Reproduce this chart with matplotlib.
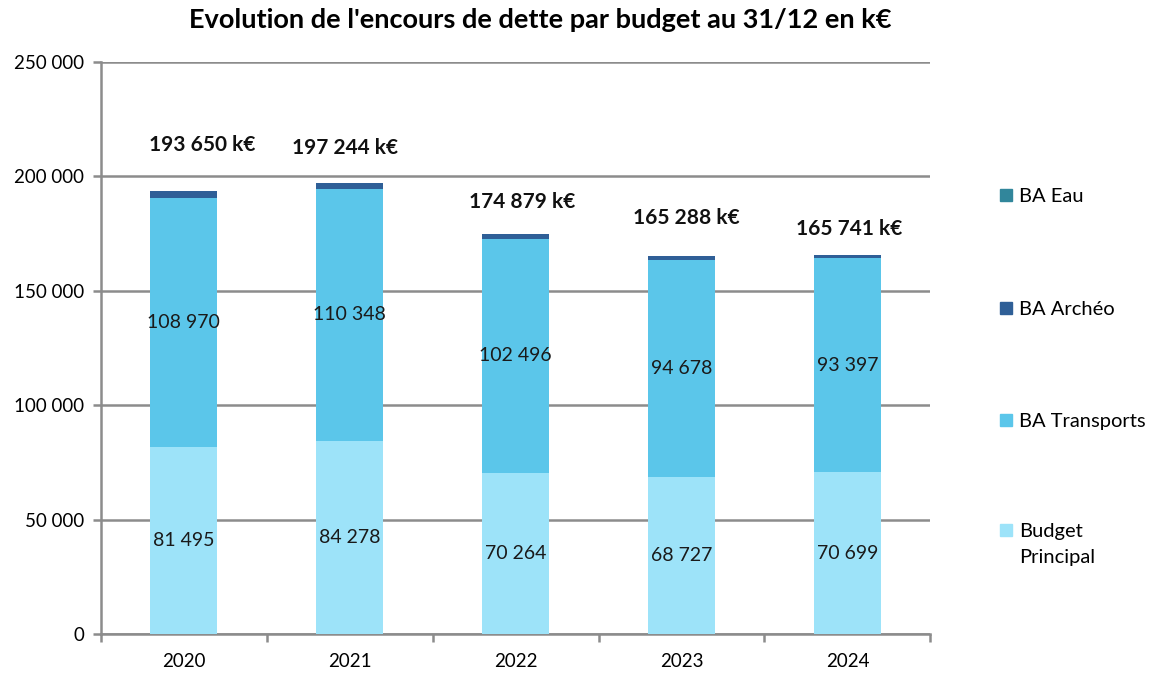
import matplotlib.pyplot as plt
from matplotlib.patches import Rectangle
from matplotlib.ticker import FuncFormatter
import numpy as np

plt.rcParams['font.family'] = ['Lato', 'DejaVu Sans']

# Data (k€)
years = ['2020', '2021', '2022', '2023', '2024']
principal = [81495, 84278, 70264, 68727, 70699]
transports = [108970, 110348, 102496, 94678, 93397]
archeo = [3185, 2618, 2119, 1883, 1645]
eau = [0, 0, 0, 0, 0]
totals = [193650, 197244, 174879, 165288, 165741]

# label placement (layout only)
tot_dy = [20000, 15200, 13900, 16500, 11300]
tot_dx = [0.11, -0.03, 0.04, 0.03, 0.01]

c_pr = '#9de3f9'
c_tr = '#5bc6ea'
c_ar = '#2f5f97'
c_eau = '#31869b'
grid_c = '#8c8c8c'

W, H = 1160, 673
fig = plt.figure(figsize=(W / 100, H / 100), dpi=100)
ax = fig.add_axes([0.087, 0.058, 0.715, 0.85])

x = np.arange(len(years))
w = 0.405
pr = np.array(principal)
tr = np.array(transports)
ar = np.array(archeo)
ax.bar(x, pr, w, color=c_pr, zorder=3)
ax.bar(x, tr, w, bottom=pr, color=c_tr, zorder=3)
ax.bar(x, ar, w, bottom=pr + tr, color=c_ar, zorder=3)
ax.bar(x, eau, w, bottom=pr + tr + ar, color=c_eau, zorder=3)

fmt = lambda v: '{:,}'.format(int(v)).replace(',', ' ')

for i in range(len(years)):
    ax.text(x[i], pr[i] / 2, fmt(pr[i]), ha='center', va='center',
            fontsize=14, color='#1a1a1a', zorder=4)
    ax.text(x[i], pr[i] + tr[i] / 2, fmt(tr[i]), ha='center', va='center',
            fontsize=14, color='#1a1a1a', zorder=4)
    ax.text(x[i] + tot_dx[i], totals[i] + tot_dy[i], fmt(totals[i]) + ' k€',
            ha='center', va='center', fontsize=15, fontweight='bold',
            color='#111111')

ax.set_xlim(-0.5, len(years) - 0.5)
ax.set_ylim(0, 250000)
ax.set_yticks(np.arange(0, 250001, 50000))
ax.yaxis.set_major_formatter(FuncFormatter(lambda v, p: fmt(v)))
ax.set_xticks(x)
ax.set_xticklabels(years)
ax.set_xticks(np.arange(-0.5, len(years), 1), minor=True)
ax.tick_params(axis='x', which='major', length=0, pad=14, labelsize=13.5)
ax.tick_params(axis='x', which='minor', length=6, width=1.8, color=grid_c)
ax.tick_params(axis='y', length=6, width=1.8, color=grid_c, pad=6,
               labelsize=13.5)
ax.grid(axis='y', color=grid_c, linewidth=1.8, zorder=0)
for s in ['top', 'right']:
    ax.spines[s].set_visible(False)
for s in ['left', 'bottom']:
    ax.spines[s].set_color(grid_c)
    ax.spines[s].set_linewidth(1.8)

fig.text(540 / W, 1 - 20 / H,
         "Evolution de l'encours de dette par budget au 31/12 en k€",
         fontsize=19.5, fontweight='bold', ha='center', va='center')

# legend, drawn by hand to match the spacing of the original
leg_items = [('BA Eau', c_eau, 195), ('BA Archéo', c_ar, 308),
             ('BA Transports', c_tr, 420), ('Budget\nPrincipal', c_pr, 530)]
for lab, col, py in leg_items:
    fig.patches.append(Rectangle((1000 / W, 1 - (py + 6) / H), 12 / W, 12 / H,
                                 transform=fig.transFigure, color=col))
    fig.text(1019 / W, 1 - (py - 7) / H, lab, fontsize=14.5, ha='left',
             va='top', linespacing=1.65)

fig.savefig('out.png', dpi=100)
